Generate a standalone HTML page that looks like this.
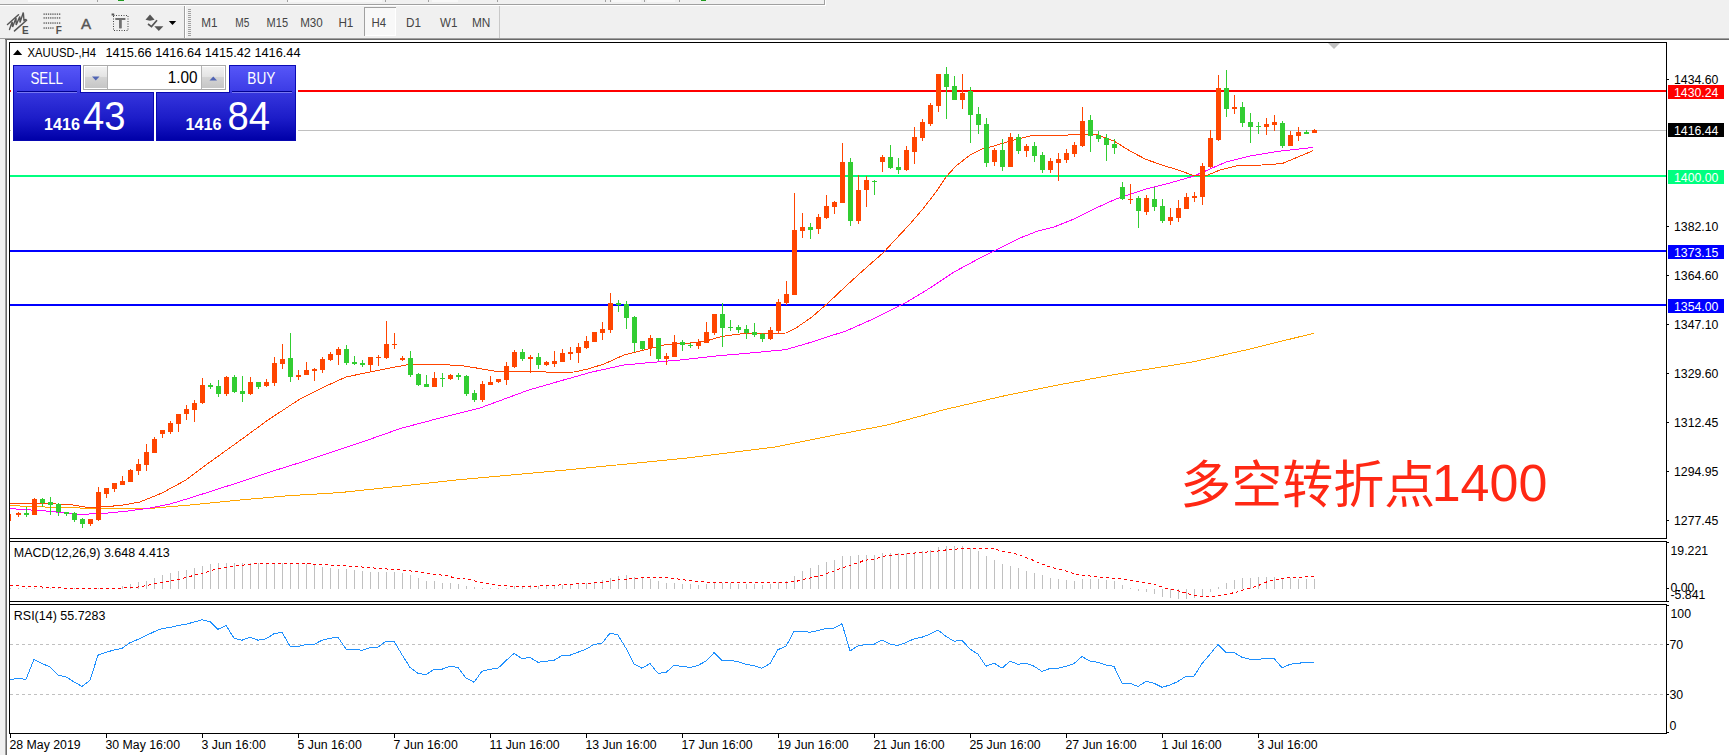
<!DOCTYPE html>
<html lang="zh"><head><meta charset="utf-8"><title>XAUUSD H4</title>
<style>html,body{margin:0;padding:0;background:#fff;overflow:hidden}body{width:1729px;height:755px;position:relative;font-family:"Liberation Sans", "Noto Sans CJK SC", sans-serif}svg{display:block;position:absolute;left:0;top:0}text{font-family:"Liberation Sans", "Noto Sans CJK SC", sans-serif}</style>
</head><body>
<svg width="1729" height="755" viewBox="0 0 1729 755">
<defs>
<linearGradient id="gb1" x1="0" y1="0" x2="0" y2="1"><stop offset="0" stop-color="#5656f8"/><stop offset="1" stop-color="#3a3ae4"/></linearGradient>
<linearGradient id="gb2" x1="0" y1="0" x2="0" y2="1"><stop offset="0" stop-color="#3636de"/><stop offset="0.55" stop-color="#1c1cc8"/><stop offset="1" stop-color="#0000a8"/></linearGradient>
<linearGradient id="gg" x1="0" y1="0" x2="0" y2="1"><stop offset="0" stop-color="#f2f2f2"/><stop offset="0.45" stop-color="#e4e4e4"/><stop offset="0.5" stop-color="#d4d4d4"/><stop offset="1" stop-color="#c6c6c6"/></linearGradient>
<clipPath id="cm"><rect x="10" y="43" width="1656" height="495"/></clipPath>
</defs>
<g shape-rendering="crispEdges">
<rect x="0" y="0" width="1729" height="755" fill="#fff"/>
<rect x="0" y="0" width="1729" height="38" fill="#f0f0f0"/>
<rect x="0" y="38" width="1729" height="1" fill="#a0a0a0"/>
<rect x="5" y="39" width="1724" height="1" fill="#696969"/>
<rect x="0" y="39" width="5" height="716" fill="#f0f0f0"/>
<rect x="5" y="40" width="1" height="715" fill="#a0a0a0"/>
<rect x="6" y="40" width="1" height="715" fill="#696969"/>
<rect x="0" y="4" width="825" height="1" fill="#a0a0a0"/>
<rect x="0" y="5" width="826" height="1" fill="#ffffff"/>
<rect x="825" y="0" width="1" height="6" fill="#ffffff"/>
<rect x="824" y="0" width="1" height="5" fill="#a0a0a0"/>
<rect x="28" y="0" width="32" height="2" fill="#fafafa"/>
<rect x="288" y="0" width="94" height="2" fill="#f8f8f8"/>
<rect x="432" y="0" width="26" height="2" fill="#f8f8f8"/>
<rect x="612" y="0" width="29" height="2" fill="#f8f8f8"/>
<rect x="647" y="0" width="28" height="2" fill="#f8f8f8"/>
<rect x="701" y="0" width="5" height="1" fill="#1e9a1e"/>
<rect x="97" y="0" width="1" height="2" fill="#a0a0a0"/>
<rect x="287" y="0" width="1" height="2" fill="#a0a0a0"/>
<rect x="385" y="0" width="1" height="2" fill="#a0a0a0"/>
<rect x="428" y="0" width="1" height="2" fill="#a0a0a0"/>
<rect x="497" y="0" width="1" height="2" fill="#a0a0a0"/>
<rect x="605" y="0" width="1" height="2" fill="#a0a0a0"/>
<rect x="610" y="0" width="1" height="2" fill="#a0a0a0"/>
<rect x="644" y="0" width="1" height="2" fill="#a0a0a0"/>
<rect x="679" y="0" width="1" height="2" fill="#a0a0a0"/>
<rect x="118" y="0" width="6" height="1" fill="#1e9a1e"/>
<rect x="184" y="6" width="1" height="32" fill="#a0a0a0"/>
<rect x="185" y="6" width="1" height="32" fill="#ffffff"/>
<rect x="188" y="9" width="3" height="1" fill="#a0a0a0"/>
<rect x="188" y="11" width="3" height="1" fill="#a0a0a0"/>
<rect x="188" y="13" width="3" height="1" fill="#a0a0a0"/>
<rect x="188" y="15" width="3" height="1" fill="#a0a0a0"/>
<rect x="188" y="17" width="3" height="1" fill="#a0a0a0"/>
<rect x="188" y="19" width="3" height="1" fill="#a0a0a0"/>
<rect x="188" y="21" width="3" height="1" fill="#a0a0a0"/>
<rect x="188" y="23" width="3" height="1" fill="#a0a0a0"/>
<rect x="188" y="25" width="3" height="1" fill="#a0a0a0"/>
<rect x="188" y="27" width="3" height="1" fill="#a0a0a0"/>
<rect x="188" y="29" width="3" height="1" fill="#a0a0a0"/>
<rect x="188" y="31" width="3" height="1" fill="#a0a0a0"/>
<rect x="188" y="33" width="3" height="1" fill="#a0a0a0"/>
<rect x="188" y="35" width="3" height="1" fill="#a0a0a0"/>
<rect x="499" y="6" width="1" height="32" fill="#c8c8c8"/>
<rect x="364" y="7" width="32" height="29" fill="#f8f8f8"/>
<rect x="364" y="7" width="32" height="1" fill="#a0a0a0"/>
<rect x="364" y="7" width="1" height="29" fill="#a0a0a0"/>
<rect x="365" y="35" width="31" height="1" fill="#ffffff"/>
<rect x="395" y="8" width="1" height="28" fill="#ffffff"/>
</g>
<g fill="none" stroke="#555" stroke-width="1.1" stroke-linecap="round">
<path d="M7.5 24.5 L18.5 14.7 M14.5 30.9 L26.6 20.2" stroke-width="1.5"/>
<path d="M9.5 29.5 L12.2 21.8 L12.6 27 L16 18 L16.2 25 L19.8 16.5 L20 22.5 L23.3 12.5 L24 20.5 L26 19.5" stroke-width="1.4"/>
</g>
<text x="22" y="33.8" font-size="10" font-weight="bold" fill="#505050">E</text>
<g fill="#686868">
<rect x="43.5" y="13.4" width="1.3" height="1.5"/>
<rect x="45.7" y="13.4" width="1.3" height="1.5"/>
<rect x="47.9" y="13.4" width="1.3" height="1.5"/>
<rect x="50.1" y="13.4" width="1.3" height="1.5"/>
<rect x="52.3" y="13.4" width="1.3" height="1.5"/>
<rect x="54.5" y="13.4" width="1.3" height="1.5"/>
<rect x="56.8" y="13.4" width="1.3" height="1.5"/>
<rect x="59.0" y="13.4" width="1.3" height="1.5"/>
<rect x="43.5" y="17.2" width="1.3" height="1.5"/>
<rect x="45.7" y="17.2" width="1.3" height="1.5"/>
<rect x="47.9" y="17.2" width="1.3" height="1.5"/>
<rect x="50.1" y="17.2" width="1.3" height="1.5"/>
<rect x="52.3" y="17.2" width="1.3" height="1.5"/>
<rect x="54.5" y="17.2" width="1.3" height="1.5"/>
<rect x="56.8" y="17.2" width="1.3" height="1.5"/>
<rect x="59.0" y="17.2" width="1.3" height="1.5"/>
<rect x="43.5" y="22.3" width="1.3" height="1.5"/>
<rect x="45.7" y="22.3" width="1.3" height="1.5"/>
<rect x="47.9" y="22.3" width="1.3" height="1.5"/>
<rect x="50.1" y="22.3" width="1.3" height="1.5"/>
<rect x="52.3" y="22.3" width="1.3" height="1.5"/>
<rect x="54.5" y="22.3" width="1.3" height="1.5"/>
<rect x="56.8" y="22.3" width="1.3" height="1.5"/>
<rect x="59.0" y="22.3" width="1.3" height="1.5"/>
<rect x="43.5" y="27.3" width="1.3" height="1.5"/>
<rect x="45.7" y="27.3" width="1.3" height="1.5"/>
<rect x="47.9" y="27.3" width="1.3" height="1.5"/>
<rect x="50.1" y="27.3" width="1.3" height="1.5"/>
<rect x="52.3" y="27.3" width="1.3" height="1.5"/>
</g>
<text x="55.8" y="33.8" font-size="10" font-weight="bold" fill="#505050">F</text>
<text x="86.1" y="28.6" font-size="15.2" fill="#555" stroke="#555" stroke-width="0.4" text-anchor="middle">A</text>
<rect x="113.5" y="15.5" width="14.5" height="15" fill="none" stroke="#444" stroke-width="1" stroke-dasharray="1 1.5"/>
<rect x="111.6" y="13.5" width="2.6" height="2" fill="#555"/>
<path d="M115.3 19 H125.4 M120.4 18.2 V28.3" fill="none" stroke="#707070" stroke-width="1.8"/>
<path d="M120.4 18.2 V28.3" fill="none" stroke="#707070" stroke-width="2.6"/>
<g fill="#555"><path d="M150 14.5 L154.6 19.8 L150 20.8 L145.5 19.8 Z"/><path d="M154.3 26.2 H163.4 L158.8 31 Z"/></g>
<path d="M148 24 L151.5 26.6 L157 20.2" fill="none" stroke="#555" stroke-width="1.7"/>
<path d="M168.8 20.9 H176.2 L172.5 25.1 Z" fill="#000"/>
<text x="209.5" y="27.2" font-size="12.5" fill="#444" text-anchor="middle" textLength="16.3" lengthAdjust="spacingAndGlyphs">M1</text>
<text x="242.3" y="27.2" font-size="12.5" fill="#444" text-anchor="middle" textLength="14" lengthAdjust="spacingAndGlyphs">M5</text>
<text x="277.3" y="27.2" font-size="12.5" fill="#444" text-anchor="middle" textLength="21.5" lengthAdjust="spacingAndGlyphs">M15</text>
<text x="311.5" y="27.2" font-size="12.5" fill="#444" text-anchor="middle" textLength="22.6" lengthAdjust="spacingAndGlyphs">M30</text>
<text x="345.9" y="27.2" font-size="12.5" fill="#444" text-anchor="middle" textLength="15" lengthAdjust="spacingAndGlyphs">H1</text>
<text x="378.7" y="27.2" font-size="12.5" fill="#444" text-anchor="middle" textLength="14.6" lengthAdjust="spacingAndGlyphs">H4</text>
<text x="413.5" y="27.2" font-size="12.5" fill="#444" text-anchor="middle" textLength="15" lengthAdjust="spacingAndGlyphs">D1</text>
<text x="448.7" y="27.2" font-size="12.5" fill="#444" text-anchor="middle" textLength="17.4" lengthAdjust="spacingAndGlyphs">W1</text>
<text x="481.2" y="27.2" font-size="12.5" fill="#444" text-anchor="middle" textLength="18.4" lengthAdjust="spacingAndGlyphs">MN</text>
<g shape-rendering="crispEdges" fill="none" stroke="#000" stroke-width="1">
<path d="M9.5 733.5 V42.5 H1666.5 V733.5"/>
<path d="M9.5 538.5 H1666.5 M9.5 541.5 H1666.5 M9.5 601.5 H1666.5 M9.5 604.5 H1666.5 M9.5 733.5 H1666.5"/>
</g>
<g shape-rendering="crispEdges">
<rect x="10" y="539" width="1657" height="2" fill="#fff"/>
<rect x="10" y="602" width="1657" height="2" fill="#fff"/>
<rect x="10" y="130" width="1656" height="1" fill="#c0c0c0"/>
<rect x="10" y="90" width="1656" height="2" fill="#ff0000"/>
<rect x="10" y="175" width="1656" height="2" fill="#00ff7f"/>
<rect x="10" y="250" width="1656" height="2" fill="#0000ff"/>
<rect x="10" y="304" width="1656" height="2" fill="#0000ff"/>
</g>
<path d="M1328 43 H1340 L1334 49 Z" fill="#c0c0c0"/>
<g clip-path="url(#cm)">
<polyline fill="none" stroke="#FFA500" stroke-width="1" shape-rendering="crispEdges" points="10.0,505.6 60.0,507.6 100.0,508.4 150.0,508.4 190.0,505.0 240.0,500.0 290.0,495.6 340.0,492.6 400.0,486.2 455.7,480.0 571.3,469.5 687.0,458.0 773.8,447.2 830.0,436.0 887.8,424.9 945.7,409.3 1003.5,396.0 1061.3,384.4 1119.2,373.7 1191.5,362.2 1249.3,349.2 1313.5,333.3"/>
<polyline fill="none" stroke="#FF00FF" stroke-width="1" shape-rendering="crispEdges" points="10.0,508.6 46.0,511.0 80.0,514.4 104.0,513.4 128.0,511.0 150.0,508.0 170.0,504.0 190.0,498.0 212.0,491.0 240.0,482.0 270.0,472.0 300.0,462.6 346.0,447.4 368.0,440.0 400.0,428.6 440.0,418.0 480.0,408.0 528.0,390.3 560.0,381.0 592.0,372.0 624.0,365.0 652.0,362.4 680.0,360.0 716.0,356.0 750.0,353.0 786.0,349.6 812.0,342.0 830.0,336.1 846.0,331.0 873.4,318.8 908.0,301.4 930.0,288.0 954.0,272.0 980.0,258.0 998.0,249.0 1020.0,238.0 1038.0,231.0 1054.0,227.0 1074.0,219.0 1094.0,209.0 1116.0,199.0 1146.0,189.0 1170.0,183.0 1194.0,176.0 1210.0,169.0 1226.0,162.0 1250.0,156.0 1278.0,151.4 1313.4,147.4"/>
<polyline fill="none" stroke="#FF4500" stroke-width="1" shape-rendering="crispEdges" points="10.0,503.0 34.0,503.4 70.0,504.4 88.0,507.6 104.0,506.6 120.0,505.6 140.0,502.0 162.0,493.0 186.0,480.0 210.0,462.0 240.0,440.5 268.0,420.0 300.0,399.0 324.0,387.0 346.0,377.0 370.0,372.0 390.0,368.0 406.0,365.0 438.0,364.4 462.0,365.6 480.0,368.6 496.0,371.4 526.0,371.4 530.0,371.0 552.0,372.4 574.0,372.0 588.0,369.0 604.0,364.0 624.0,355.0 640.0,351.0 652.0,348.0 664.0,345.0 690.0,343.0 706.0,341.0 722.0,336.4 740.0,334.0 768.0,333.4 786.0,333.0 796.0,328.0 812.0,317.0 828.0,303.0 846.0,286.0 862.0,271.4 884.0,252.0 894.0,241.0 910.0,224.0 922.0,210.0 936.0,192.0 946.0,177.0 956.0,166.0 970.0,155.0 982.0,149.0 994.0,146.0 1010.0,141.0 1032.0,135.6 1060.0,135.6 1082.0,134.0 1098.0,135.0 1114.0,141.0 1130.0,151.0 1146.0,159.4 1162.0,165.0 1178.0,170.0 1192.0,175.0 1208.0,175.0 1220.0,170.0 1238.0,165.6 1262.0,165.0 1282.0,163.6 1298.0,157.0 1313.4,150.6"/>
<g shape-rendering="crispEdges">
<rect x="10" y="514" width="1" height="7" fill="#FF4500"/>
<rect x="18" y="512" width="1" height="5" fill="#FF4500"/>
<rect x="16" y="513" width="5" height="2" fill="#FF4500"/>
<rect x="26" y="507" width="1" height="10" fill="#32CD32"/>
<rect x="24" y="513" width="5" height="2" fill="#32CD32"/>
<rect x="34" y="498" width="1" height="17" fill="#FF4500"/>
<rect x="32" y="499" width="5" height="16" fill="#FF4500"/>
<rect x="42" y="498" width="1" height="9" fill="#32CD32"/>
<rect x="40" y="499" width="5" height="4" fill="#32CD32"/>
<rect x="50" y="497" width="1" height="18" fill="#32CD32"/>
<rect x="48" y="502" width="5" height="3" fill="#32CD32"/>
<rect x="58" y="503" width="1" height="13" fill="#32CD32"/>
<rect x="56" y="504" width="5" height="8" fill="#32CD32"/>
<rect x="66" y="512" width="1" height="4" fill="#32CD32"/>
<rect x="64" y="512" width="5" height="2" fill="#32CD32"/>
<rect x="74" y="512" width="1" height="10" fill="#32CD32"/>
<rect x="72" y="513" width="5" height="7" fill="#32CD32"/>
<rect x="82" y="518" width="1" height="10" fill="#32CD32"/>
<rect x="80" y="519" width="5" height="5" fill="#32CD32"/>
<rect x="90" y="519" width="1" height="7" fill="#FF4500"/>
<rect x="88" y="519" width="5" height="5" fill="#FF4500"/>
<rect x="98" y="487" width="1" height="34" fill="#FF4500"/>
<rect x="96" y="492" width="5" height="28" fill="#FF4500"/>
<rect x="106" y="488" width="1" height="10" fill="#FF4500"/>
<rect x="104" y="488" width="5" height="6" fill="#FF4500"/>
<rect x="114" y="483" width="1" height="9" fill="#FF4500"/>
<rect x="112" y="483" width="5" height="6" fill="#FF4500"/>
<rect x="122" y="476" width="1" height="9" fill="#FF4500"/>
<rect x="120" y="481" width="5" height="4" fill="#FF4500"/>
<rect x="130" y="469" width="1" height="13" fill="#FF4500"/>
<rect x="128" y="470" width="5" height="12" fill="#FF4500"/>
<rect x="138" y="459" width="1" height="16" fill="#FF4500"/>
<rect x="136" y="464" width="5" height="7" fill="#FF4500"/>
<rect x="146" y="444" width="1" height="27" fill="#FF4500"/>
<rect x="144" y="452" width="5" height="13" fill="#FF4500"/>
<rect x="154" y="437" width="1" height="16" fill="#FF4500"/>
<rect x="152" y="439" width="5" height="14" fill="#FF4500"/>
<rect x="162" y="430" width="1" height="8" fill="#FF4500"/>
<rect x="160" y="430" width="5" height="4" fill="#FF4500"/>
<rect x="170" y="421" width="1" height="13" fill="#FF4500"/>
<rect x="168" y="423" width="5" height="9" fill="#FF4500"/>
<rect x="178" y="414" width="1" height="18" fill="#FF4500"/>
<rect x="176" y="414" width="5" height="10" fill="#FF4500"/>
<rect x="186" y="405" width="1" height="15" fill="#FF4500"/>
<rect x="184" y="409" width="5" height="5" fill="#FF4500"/>
<rect x="194" y="400" width="1" height="22" fill="#FF4500"/>
<rect x="192" y="403" width="5" height="7" fill="#FF4500"/>
<rect x="202" y="378" width="1" height="26" fill="#FF4500"/>
<rect x="200" y="385" width="5" height="18" fill="#FF4500"/>
<rect x="210" y="383" width="1" height="6" fill="#32CD32"/>
<rect x="208" y="385" width="5" height="2" fill="#32CD32"/>
<rect x="218" y="380" width="1" height="17" fill="#32CD32"/>
<rect x="216" y="386" width="5" height="8" fill="#32CD32"/>
<rect x="226" y="376" width="1" height="20" fill="#FF4500"/>
<rect x="224" y="377" width="5" height="17" fill="#FF4500"/>
<rect x="234" y="375" width="1" height="18" fill="#32CD32"/>
<rect x="232" y="377" width="5" height="15" fill="#32CD32"/>
<rect x="242" y="376" width="1" height="26" fill="#32CD32"/>
<rect x="240" y="391" width="5" height="3" fill="#32CD32"/>
<rect x="250" y="377" width="1" height="18" fill="#FF4500"/>
<rect x="248" y="382" width="5" height="12" fill="#FF4500"/>
<rect x="258" y="382" width="1" height="7" fill="#32CD32"/>
<rect x="256" y="382" width="5" height="5" fill="#32CD32"/>
<rect x="266" y="379" width="1" height="8" fill="#FF4500"/>
<rect x="264" y="382" width="5" height="4" fill="#FF4500"/>
<rect x="274" y="357" width="1" height="29" fill="#FF4500"/>
<rect x="272" y="363" width="5" height="20" fill="#FF4500"/>
<rect x="282" y="344" width="1" height="25" fill="#FF4500"/>
<rect x="280" y="359" width="5" height="5" fill="#FF4500"/>
<rect x="290" y="333" width="1" height="49" fill="#32CD32"/>
<rect x="288" y="358" width="5" height="19" fill="#32CD32"/>
<rect x="298" y="370" width="1" height="10" fill="#FF4500"/>
<rect x="296" y="375" width="5" height="2" fill="#FF4500"/>
<rect x="306" y="362" width="1" height="13" fill="#FF4500"/>
<rect x="304" y="370" width="5" height="5" fill="#FF4500"/>
<rect x="314" y="368" width="1" height="13" fill="#FF4500"/>
<rect x="312" y="369" width="5" height="2" fill="#FF4500"/>
<rect x="322" y="357" width="1" height="16" fill="#FF4500"/>
<rect x="320" y="359" width="5" height="11" fill="#FF4500"/>
<rect x="330" y="352" width="1" height="9" fill="#FF4500"/>
<rect x="328" y="354" width="5" height="6" fill="#FF4500"/>
<rect x="338" y="347" width="1" height="18" fill="#FF4500"/>
<rect x="336" y="349" width="5" height="6" fill="#FF4500"/>
<rect x="346" y="345" width="1" height="20" fill="#32CD32"/>
<rect x="344" y="349" width="5" height="14" fill="#32CD32"/>
<rect x="354" y="356" width="1" height="9" fill="#32CD32"/>
<rect x="352" y="362" width="5" height="2" fill="#32CD32"/>
<rect x="362" y="360" width="1" height="7" fill="#32CD32"/>
<rect x="360" y="363" width="5" height="2" fill="#32CD32"/>
<rect x="370" y="357" width="1" height="15" fill="#FF4500"/>
<rect x="368" y="357" width="5" height="8" fill="#FF4500"/>
<rect x="378" y="355" width="1" height="11" fill="#FF4500"/>
<rect x="376" y="357" width="5" height="1" fill="#FF4500"/>
<rect x="386" y="321" width="1" height="38" fill="#FF4500"/>
<rect x="384" y="344" width="5" height="14" fill="#FF4500"/>
<rect x="394" y="333" width="1" height="16" fill="#FF4500"/>
<rect x="392" y="344" width="5" height="1" fill="#FF4500"/>
<rect x="402" y="356" width="1" height="5" fill="#FF4500"/>
<rect x="400" y="358" width="5" height="2" fill="#FF4500"/>
<rect x="410" y="351" width="1" height="26" fill="#32CD32"/>
<rect x="408" y="358" width="5" height="17" fill="#32CD32"/>
<rect x="418" y="373" width="1" height="13" fill="#32CD32"/>
<rect x="416" y="374" width="5" height="11" fill="#32CD32"/>
<rect x="426" y="375" width="1" height="12" fill="#32CD32"/>
<rect x="424" y="384" width="5" height="3" fill="#32CD32"/>
<rect x="434" y="372" width="1" height="15" fill="#FF4500"/>
<rect x="432" y="378" width="5" height="9" fill="#FF4500"/>
<rect x="442" y="373" width="1" height="14" fill="#32CD32"/>
<rect x="440" y="378" width="5" height="1" fill="#32CD32"/>
<rect x="450" y="374" width="1" height="6" fill="#FF4500"/>
<rect x="448" y="375" width="5" height="4" fill="#FF4500"/>
<rect x="458" y="373" width="1" height="7" fill="#32CD32"/>
<rect x="456" y="375" width="5" height="2" fill="#32CD32"/>
<rect x="466" y="375" width="1" height="21" fill="#32CD32"/>
<rect x="464" y="376" width="5" height="18" fill="#32CD32"/>
<rect x="474" y="390" width="1" height="12" fill="#32CD32"/>
<rect x="472" y="393" width="5" height="7" fill="#32CD32"/>
<rect x="482" y="381" width="1" height="21" fill="#FF4500"/>
<rect x="480" y="384" width="5" height="16" fill="#FF4500"/>
<rect x="490" y="376" width="1" height="9" fill="#FF4500"/>
<rect x="488" y="382" width="5" height="3" fill="#FF4500"/>
<rect x="498" y="379" width="1" height="4" fill="#FF4500"/>
<rect x="496" y="379" width="5" height="3" fill="#FF4500"/>
<rect x="506" y="362" width="1" height="23" fill="#FF4500"/>
<rect x="504" y="366" width="5" height="14" fill="#FF4500"/>
<rect x="514" y="350" width="1" height="18" fill="#FF4500"/>
<rect x="512" y="352" width="5" height="15" fill="#FF4500"/>
<rect x="522" y="349" width="1" height="12" fill="#32CD32"/>
<rect x="520" y="352" width="5" height="7" fill="#32CD32"/>
<rect x="530" y="355" width="1" height="18" fill="#FF4500"/>
<rect x="528" y="357" width="5" height="2" fill="#FF4500"/>
<rect x="538" y="353" width="1" height="16" fill="#32CD32"/>
<rect x="536" y="357" width="5" height="8" fill="#32CD32"/>
<rect x="546" y="361" width="1" height="5" fill="#FF4500"/>
<rect x="544" y="362" width="5" height="3" fill="#FF4500"/>
<rect x="554" y="351" width="1" height="16" fill="#FF4500"/>
<rect x="552" y="361" width="5" height="3" fill="#FF4500"/>
<rect x="562" y="349" width="1" height="13" fill="#FF4500"/>
<rect x="560" y="353" width="5" height="9" fill="#FF4500"/>
<rect x="570" y="347" width="1" height="13" fill="#FF4500"/>
<rect x="568" y="352" width="5" height="2" fill="#FF4500"/>
<rect x="578" y="343" width="1" height="20" fill="#FF4500"/>
<rect x="576" y="347" width="5" height="6" fill="#FF4500"/>
<rect x="586" y="336" width="1" height="13" fill="#FF4500"/>
<rect x="584" y="341" width="5" height="7" fill="#FF4500"/>
<rect x="594" y="332" width="1" height="10" fill="#FF4500"/>
<rect x="592" y="332" width="5" height="10" fill="#FF4500"/>
<rect x="602" y="322" width="1" height="18" fill="#FF4500"/>
<rect x="600" y="329" width="5" height="4" fill="#FF4500"/>
<rect x="610" y="293" width="1" height="40" fill="#FF4500"/>
<rect x="608" y="303" width="5" height="27" fill="#FF4500"/>
<rect x="618" y="300" width="1" height="12" fill="#32CD32"/>
<rect x="616" y="303" width="5" height="2" fill="#32CD32"/>
<rect x="626" y="301" width="1" height="28" fill="#32CD32"/>
<rect x="624" y="304" width="5" height="14" fill="#32CD32"/>
<rect x="634" y="316" width="1" height="36" fill="#32CD32"/>
<rect x="632" y="317" width="5" height="26" fill="#32CD32"/>
<rect x="642" y="341" width="1" height="9" fill="#32CD32"/>
<rect x="640" y="341" width="5" height="8" fill="#32CD32"/>
<rect x="650" y="335" width="1" height="21" fill="#FF4500"/>
<rect x="648" y="338" width="5" height="10" fill="#FF4500"/>
<rect x="658" y="338" width="1" height="23" fill="#32CD32"/>
<rect x="656" y="338" width="5" height="21" fill="#32CD32"/>
<rect x="666" y="353" width="1" height="12" fill="#FF4500"/>
<rect x="664" y="356" width="5" height="3" fill="#FF4500"/>
<rect x="674" y="335" width="1" height="22" fill="#FF4500"/>
<rect x="672" y="342" width="5" height="15" fill="#FF4500"/>
<rect x="682" y="340" width="1" height="11" fill="#32CD32"/>
<rect x="680" y="342" width="5" height="3" fill="#32CD32"/>
<rect x="690" y="343" width="1" height="5" fill="#32CD32"/>
<rect x="688" y="345" width="5" height="1" fill="#32CD32"/>
<rect x="698" y="339" width="1" height="10" fill="#FF4500"/>
<rect x="696" y="342" width="5" height="4" fill="#FF4500"/>
<rect x="706" y="322" width="1" height="21" fill="#FF4500"/>
<rect x="704" y="332" width="5" height="11" fill="#FF4500"/>
<rect x="714" y="314" width="1" height="21" fill="#FF4500"/>
<rect x="712" y="314" width="5" height="19" fill="#FF4500"/>
<rect x="722" y="303" width="1" height="44" fill="#32CD32"/>
<rect x="720" y="314" width="5" height="14" fill="#32CD32"/>
<rect x="730" y="320" width="1" height="11" fill="#32CD32"/>
<rect x="728" y="327" width="5" height="1" fill="#32CD32"/>
<rect x="738" y="325" width="1" height="8" fill="#32CD32"/>
<rect x="736" y="327" width="5" height="3" fill="#32CD32"/>
<rect x="746" y="325" width="1" height="14" fill="#32CD32"/>
<rect x="744" y="329" width="5" height="4" fill="#32CD32"/>
<rect x="754" y="323" width="1" height="14" fill="#32CD32"/>
<rect x="752" y="332" width="5" height="3" fill="#32CD32"/>
<rect x="762" y="333" width="1" height="9" fill="#32CD32"/>
<rect x="760" y="334" width="5" height="5" fill="#32CD32"/>
<rect x="770" y="327" width="1" height="13" fill="#FF4500"/>
<rect x="768" y="330" width="5" height="9" fill="#FF4500"/>
<rect x="778" y="299" width="1" height="34" fill="#FF4500"/>
<rect x="776" y="302" width="5" height="29" fill="#FF4500"/>
<rect x="786" y="281" width="1" height="24" fill="#FF4500"/>
<rect x="784" y="294" width="5" height="9" fill="#FF4500"/>
<rect x="794" y="193" width="1" height="102" fill="#FF4500"/>
<rect x="792" y="230" width="5" height="65" fill="#FF4500"/>
<rect x="802" y="213" width="1" height="25" fill="#FF4500"/>
<rect x="800" y="227" width="5" height="4" fill="#FF4500"/>
<rect x="810" y="223" width="1" height="16" fill="#32CD32"/>
<rect x="808" y="227" width="5" height="3" fill="#32CD32"/>
<rect x="818" y="214" width="1" height="20" fill="#FF4500"/>
<rect x="816" y="217" width="5" height="12" fill="#FF4500"/>
<rect x="826" y="195" width="1" height="24" fill="#FF4500"/>
<rect x="824" y="206" width="5" height="12" fill="#FF4500"/>
<rect x="834" y="201" width="1" height="13" fill="#FF4500"/>
<rect x="832" y="202" width="5" height="5" fill="#FF4500"/>
<rect x="842" y="143" width="1" height="60" fill="#FF4500"/>
<rect x="840" y="162" width="5" height="41" fill="#FF4500"/>
<rect x="850" y="158" width="1" height="68" fill="#32CD32"/>
<rect x="848" y="162" width="5" height="59" fill="#32CD32"/>
<rect x="858" y="175" width="1" height="49" fill="#FF4500"/>
<rect x="856" y="190" width="5" height="31" fill="#FF4500"/>
<rect x="866" y="176" width="1" height="31" fill="#FF4500"/>
<rect x="864" y="180" width="5" height="10" fill="#FF4500"/>
<rect x="874" y="180" width="1" height="15" fill="#32CD32"/>
<rect x="872" y="181" width="5" height="1" fill="#32CD32"/>
<rect x="882" y="155" width="1" height="17" fill="#FF4500"/>
<rect x="880" y="157" width="5" height="5" fill="#FF4500"/>
<rect x="890" y="145" width="1" height="24" fill="#32CD32"/>
<rect x="888" y="157" width="5" height="11" fill="#32CD32"/>
<rect x="898" y="158" width="1" height="16" fill="#32CD32"/>
<rect x="896" y="167" width="5" height="3" fill="#32CD32"/>
<rect x="906" y="146" width="1" height="25" fill="#FF4500"/>
<rect x="904" y="150" width="5" height="20" fill="#FF4500"/>
<rect x="914" y="127" width="1" height="37" fill="#FF4500"/>
<rect x="912" y="137" width="5" height="15" fill="#FF4500"/>
<rect x="922" y="119" width="1" height="22" fill="#FF4500"/>
<rect x="920" y="122" width="5" height="16" fill="#FF4500"/>
<rect x="930" y="103" width="1" height="23" fill="#FF4500"/>
<rect x="928" y="105" width="5" height="19" fill="#FF4500"/>
<rect x="938" y="74" width="1" height="38" fill="#FF4500"/>
<rect x="936" y="74" width="5" height="32" fill="#FF4500"/>
<rect x="946" y="67" width="1" height="52" fill="#32CD32"/>
<rect x="944" y="74" width="5" height="13" fill="#32CD32"/>
<rect x="954" y="76" width="1" height="24" fill="#32CD32"/>
<rect x="952" y="86" width="5" height="14" fill="#32CD32"/>
<rect x="962" y="74" width="1" height="35" fill="#FF4500"/>
<rect x="960" y="93" width="5" height="7" fill="#FF4500"/>
<rect x="970" y="87" width="1" height="56" fill="#32CD32"/>
<rect x="968" y="91" width="5" height="24" fill="#32CD32"/>
<rect x="978" y="107" width="1" height="27" fill="#32CD32"/>
<rect x="976" y="114" width="5" height="11" fill="#32CD32"/>
<rect x="986" y="118" width="1" height="49" fill="#32CD32"/>
<rect x="984" y="124" width="5" height="39" fill="#32CD32"/>
<rect x="994" y="148" width="1" height="18" fill="#FF4500"/>
<rect x="992" y="150" width="5" height="12" fill="#FF4500"/>
<rect x="1002" y="139" width="1" height="32" fill="#32CD32"/>
<rect x="1000" y="150" width="5" height="17" fill="#32CD32"/>
<rect x="1010" y="133" width="1" height="34" fill="#FF4500"/>
<rect x="1008" y="137" width="5" height="30" fill="#FF4500"/>
<rect x="1018" y="134" width="1" height="20" fill="#32CD32"/>
<rect x="1016" y="137" width="5" height="14" fill="#32CD32"/>
<rect x="1026" y="144" width="1" height="13" fill="#FF4500"/>
<rect x="1024" y="146" width="5" height="5" fill="#FF4500"/>
<rect x="1034" y="142" width="1" height="20" fill="#32CD32"/>
<rect x="1032" y="146" width="5" height="10" fill="#32CD32"/>
<rect x="1042" y="152" width="1" height="21" fill="#32CD32"/>
<rect x="1040" y="155" width="5" height="15" fill="#32CD32"/>
<rect x="1050" y="158" width="1" height="15" fill="#FF4500"/>
<rect x="1048" y="161" width="5" height="9" fill="#FF4500"/>
<rect x="1058" y="153" width="1" height="28" fill="#FF4500"/>
<rect x="1056" y="159" width="5" height="4" fill="#FF4500"/>
<rect x="1066" y="149" width="1" height="14" fill="#FF4500"/>
<rect x="1064" y="153" width="5" height="7" fill="#FF4500"/>
<rect x="1074" y="142" width="1" height="15" fill="#FF4500"/>
<rect x="1072" y="145" width="5" height="9" fill="#FF4500"/>
<rect x="1082" y="107" width="1" height="40" fill="#FF4500"/>
<rect x="1080" y="121" width="5" height="25" fill="#FF4500"/>
<rect x="1090" y="115" width="1" height="37" fill="#32CD32"/>
<rect x="1088" y="120" width="5" height="16" fill="#32CD32"/>
<rect x="1098" y="131" width="1" height="11" fill="#32CD32"/>
<rect x="1096" y="135" width="5" height="4" fill="#32CD32"/>
<rect x="1106" y="134" width="1" height="27" fill="#32CD32"/>
<rect x="1104" y="138" width="5" height="7" fill="#32CD32"/>
<rect x="1114" y="139" width="1" height="15" fill="#32CD32"/>
<rect x="1112" y="144" width="5" height="4" fill="#32CD32"/>
<rect x="1122" y="182" width="1" height="18" fill="#32CD32"/>
<rect x="1120" y="187" width="5" height="12" fill="#32CD32"/>
<rect x="1130" y="184" width="1" height="20" fill="#FF4500"/>
<rect x="1128" y="199" width="5" height="1" fill="#FF4500"/>
<rect x="1138" y="196" width="1" height="32" fill="#32CD32"/>
<rect x="1136" y="198" width="5" height="13" fill="#32CD32"/>
<rect x="1146" y="195" width="1" height="20" fill="#FF4500"/>
<rect x="1144" y="198" width="5" height="14" fill="#FF4500"/>
<rect x="1154" y="187" width="1" height="24" fill="#32CD32"/>
<rect x="1152" y="199" width="5" height="8" fill="#32CD32"/>
<rect x="1162" y="199" width="1" height="24" fill="#32CD32"/>
<rect x="1160" y="206" width="5" height="15" fill="#32CD32"/>
<rect x="1170" y="208" width="1" height="17" fill="#FF4500"/>
<rect x="1168" y="217" width="5" height="4" fill="#FF4500"/>
<rect x="1178" y="200" width="1" height="22" fill="#FF4500"/>
<rect x="1176" y="208" width="5" height="10" fill="#FF4500"/>
<rect x="1186" y="193" width="1" height="16" fill="#FF4500"/>
<rect x="1184" y="197" width="5" height="12" fill="#FF4500"/>
<rect x="1194" y="192" width="1" height="10" fill="#FF4500"/>
<rect x="1192" y="196" width="5" height="2" fill="#FF4500"/>
<rect x="1202" y="163" width="1" height="42" fill="#FF4500"/>
<rect x="1200" y="166" width="5" height="31" fill="#FF4500"/>
<rect x="1210" y="130" width="1" height="38" fill="#FF4500"/>
<rect x="1208" y="138" width="5" height="29" fill="#FF4500"/>
<rect x="1218" y="75" width="1" height="66" fill="#FF4500"/>
<rect x="1216" y="88" width="5" height="52" fill="#FF4500"/>
<rect x="1226" y="70" width="1" height="47" fill="#32CD32"/>
<rect x="1224" y="88" width="5" height="21" fill="#32CD32"/>
<rect x="1234" y="95" width="1" height="19" fill="#FF4500"/>
<rect x="1232" y="107" width="5" height="2" fill="#FF4500"/>
<rect x="1242" y="102" width="1" height="25" fill="#32CD32"/>
<rect x="1240" y="107" width="5" height="16" fill="#32CD32"/>
<rect x="1250" y="113" width="1" height="30" fill="#32CD32"/>
<rect x="1248" y="122" width="5" height="5" fill="#32CD32"/>
<rect x="1258" y="122" width="1" height="12" fill="#32CD32"/>
<rect x="1256" y="126" width="5" height="1" fill="#32CD32"/>
<rect x="1266" y="118" width="1" height="17" fill="#FF4500"/>
<rect x="1264" y="124" width="5" height="3" fill="#FF4500"/>
<rect x="1274" y="115" width="1" height="16" fill="#FF4500"/>
<rect x="1272" y="122" width="5" height="3" fill="#FF4500"/>
<rect x="1282" y="121" width="1" height="27" fill="#32CD32"/>
<rect x="1280" y="123" width="5" height="23" fill="#32CD32"/>
<rect x="1290" y="131" width="1" height="15" fill="#FF4500"/>
<rect x="1288" y="135" width="5" height="11" fill="#FF4500"/>
<rect x="1298" y="127" width="1" height="14" fill="#FF4500"/>
<rect x="1296" y="132" width="5" height="4" fill="#FF4500"/>
<rect x="1306" y="130" width="1" height="4" fill="#32CD32"/>
<rect x="1304" y="132" width="5" height="2" fill="#32CD32"/>
<rect x="1314" y="129" width="1" height="4" fill="#FF4500"/>
<rect x="1312" y="130" width="5" height="3" fill="#FF4500"/>
</g></g>
<g shape-rendering="crispEdges">
<rect x="10" y="588" width="1" height="1" fill="#c0c0c0"/>
<rect x="18" y="588" width="1" height="1" fill="#c0c0c0"/>
<rect x="26" y="588" width="1" height="1" fill="#c0c0c0"/>
<rect x="34" y="588" width="1" height="1" fill="#c0c0c0"/>
<rect x="42" y="588" width="1" height="1" fill="#c0c0c0"/>
<rect x="50" y="588" width="1" height="1" fill="#c0c0c0"/>
<rect x="58" y="588" width="1" height="1" fill="#c0c0c0"/>
<rect x="66" y="588" width="1" height="1" fill="#c0c0c0"/>
<rect x="74" y="588" width="1" height="1" fill="#c0c0c0"/>
<rect x="82" y="588" width="1" height="1" fill="#c0c0c0"/>
<rect x="90" y="588" width="1" height="1" fill="#c0c0c0"/>
<rect x="98" y="588" width="1" height="1" fill="#c0c0c0"/>
<rect x="106" y="588" width="1" height="1" fill="#c0c0c0"/>
<rect x="114" y="588" width="1" height="1" fill="#c0c0c0"/>
<rect x="122" y="586" width="1" height="3" fill="#c0c0c0"/>
<rect x="130" y="584" width="1" height="5" fill="#c0c0c0"/>
<rect x="138" y="582" width="1" height="7" fill="#c0c0c0"/>
<rect x="146" y="581" width="1" height="8" fill="#c0c0c0"/>
<rect x="154" y="578" width="1" height="11" fill="#c0c0c0"/>
<rect x="162" y="575" width="1" height="14" fill="#c0c0c0"/>
<rect x="170" y="573" width="1" height="16" fill="#c0c0c0"/>
<rect x="178" y="571" width="1" height="18" fill="#c0c0c0"/>
<rect x="186" y="570" width="1" height="19" fill="#c0c0c0"/>
<rect x="194" y="568" width="1" height="21" fill="#c0c0c0"/>
<rect x="202" y="566" width="1" height="23" fill="#c0c0c0"/>
<rect x="210" y="564" width="1" height="25" fill="#c0c0c0"/>
<rect x="218" y="563" width="1" height="26" fill="#c0c0c0"/>
<rect x="226" y="563" width="1" height="26" fill="#c0c0c0"/>
<rect x="234" y="563" width="1" height="26" fill="#c0c0c0"/>
<rect x="242" y="563" width="1" height="26" fill="#c0c0c0"/>
<rect x="250" y="563" width="1" height="26" fill="#c0c0c0"/>
<rect x="258" y="563" width="1" height="26" fill="#c0c0c0"/>
<rect x="266" y="564" width="1" height="25" fill="#c0c0c0"/>
<rect x="274" y="564" width="1" height="25" fill="#c0c0c0"/>
<rect x="282" y="563" width="1" height="26" fill="#c0c0c0"/>
<rect x="290" y="563" width="1" height="26" fill="#c0c0c0"/>
<rect x="298" y="564" width="1" height="25" fill="#c0c0c0"/>
<rect x="306" y="564" width="1" height="25" fill="#c0c0c0"/>
<rect x="314" y="565" width="1" height="24" fill="#c0c0c0"/>
<rect x="322" y="567" width="1" height="22" fill="#c0c0c0"/>
<rect x="330" y="568" width="1" height="21" fill="#c0c0c0"/>
<rect x="338" y="569" width="1" height="20" fill="#c0c0c0"/>
<rect x="346" y="569" width="1" height="20" fill="#c0c0c0"/>
<rect x="354" y="570" width="1" height="19" fill="#c0c0c0"/>
<rect x="362" y="571" width="1" height="18" fill="#c0c0c0"/>
<rect x="370" y="572" width="1" height="17" fill="#c0c0c0"/>
<rect x="378" y="572" width="1" height="17" fill="#c0c0c0"/>
<rect x="386" y="572" width="1" height="17" fill="#c0c0c0"/>
<rect x="394" y="572" width="1" height="17" fill="#c0c0c0"/>
<rect x="402" y="573" width="1" height="16" fill="#c0c0c0"/>
<rect x="410" y="575" width="1" height="14" fill="#c0c0c0"/>
<rect x="418" y="578" width="1" height="11" fill="#c0c0c0"/>
<rect x="426" y="581" width="1" height="8" fill="#c0c0c0"/>
<rect x="434" y="581" width="1" height="8" fill="#c0c0c0"/>
<rect x="442" y="583" width="1" height="6" fill="#c0c0c0"/>
<rect x="450" y="583" width="1" height="6" fill="#c0c0c0"/>
<rect x="458" y="584" width="1" height="5" fill="#c0c0c0"/>
<rect x="466" y="586" width="1" height="3" fill="#c0c0c0"/>
<rect x="474" y="587" width="1" height="2" fill="#c0c0c0"/>
<rect x="482" y="588" width="1" height="1" fill="#c0c0c0"/>
<rect x="490" y="588" width="1" height="1" fill="#c0c0c0"/>
<rect x="498" y="588" width="1" height="1" fill="#c0c0c0"/>
<rect x="506" y="588" width="1" height="1" fill="#c0c0c0"/>
<rect x="514" y="586" width="1" height="3" fill="#c0c0c0"/>
<rect x="522" y="586" width="1" height="3" fill="#c0c0c0"/>
<rect x="530" y="585" width="1" height="4" fill="#c0c0c0"/>
<rect x="538" y="586" width="1" height="3" fill="#c0c0c0"/>
<rect x="546" y="585" width="1" height="4" fill="#c0c0c0"/>
<rect x="554" y="585" width="1" height="4" fill="#c0c0c0"/>
<rect x="562" y="585" width="1" height="4" fill="#c0c0c0"/>
<rect x="570" y="584" width="1" height="5" fill="#c0c0c0"/>
<rect x="578" y="584" width="1" height="5" fill="#c0c0c0"/>
<rect x="586" y="583" width="1" height="6" fill="#c0c0c0"/>
<rect x="594" y="582" width="1" height="7" fill="#c0c0c0"/>
<rect x="602" y="580" width="1" height="9" fill="#c0c0c0"/>
<rect x="610" y="578" width="1" height="11" fill="#c0c0c0"/>
<rect x="618" y="576" width="1" height="13" fill="#c0c0c0"/>
<rect x="626" y="575" width="1" height="14" fill="#c0c0c0"/>
<rect x="634" y="577" width="1" height="12" fill="#c0c0c0"/>
<rect x="642" y="578" width="1" height="11" fill="#c0c0c0"/>
<rect x="650" y="579" width="1" height="10" fill="#c0c0c0"/>
<rect x="658" y="581" width="1" height="8" fill="#c0c0c0"/>
<rect x="666" y="583" width="1" height="6" fill="#c0c0c0"/>
<rect x="674" y="583" width="1" height="6" fill="#c0c0c0"/>
<rect x="682" y="584" width="1" height="5" fill="#c0c0c0"/>
<rect x="690" y="584" width="1" height="5" fill="#c0c0c0"/>
<rect x="698" y="585" width="1" height="4" fill="#c0c0c0"/>
<rect x="706" y="584" width="1" height="5" fill="#c0c0c0"/>
<rect x="714" y="583" width="1" height="6" fill="#c0c0c0"/>
<rect x="722" y="583" width="1" height="6" fill="#c0c0c0"/>
<rect x="730" y="583" width="1" height="6" fill="#c0c0c0"/>
<rect x="738" y="584" width="1" height="5" fill="#c0c0c0"/>
<rect x="746" y="584" width="1" height="5" fill="#c0c0c0"/>
<rect x="754" y="584" width="1" height="5" fill="#c0c0c0"/>
<rect x="762" y="585" width="1" height="4" fill="#c0c0c0"/>
<rect x="770" y="584" width="1" height="5" fill="#c0c0c0"/>
<rect x="778" y="582" width="1" height="7" fill="#c0c0c0"/>
<rect x="786" y="581" width="1" height="8" fill="#c0c0c0"/>
<rect x="794" y="576" width="1" height="13" fill="#c0c0c0"/>
<rect x="802" y="571" width="1" height="18" fill="#c0c0c0"/>
<rect x="810" y="568" width="1" height="21" fill="#c0c0c0"/>
<rect x="818" y="565" width="1" height="24" fill="#c0c0c0"/>
<rect x="826" y="562" width="1" height="27" fill="#c0c0c0"/>
<rect x="834" y="560" width="1" height="29" fill="#c0c0c0"/>
<rect x="842" y="556" width="1" height="33" fill="#c0c0c0"/>
<rect x="850" y="556" width="1" height="33" fill="#c0c0c0"/>
<rect x="858" y="555" width="1" height="34" fill="#c0c0c0"/>
<rect x="866" y="555" width="1" height="34" fill="#c0c0c0"/>
<rect x="874" y="555" width="1" height="34" fill="#c0c0c0"/>
<rect x="882" y="553" width="1" height="36" fill="#c0c0c0"/>
<rect x="890" y="553" width="1" height="36" fill="#c0c0c0"/>
<rect x="898" y="553" width="1" height="36" fill="#c0c0c0"/>
<rect x="906" y="553" width="1" height="36" fill="#c0c0c0"/>
<rect x="914" y="552" width="1" height="37" fill="#c0c0c0"/>
<rect x="922" y="551" width="1" height="38" fill="#c0c0c0"/>
<rect x="930" y="550" width="1" height="39" fill="#c0c0c0"/>
<rect x="938" y="547" width="1" height="42" fill="#c0c0c0"/>
<rect x="946" y="546" width="1" height="43" fill="#c0c0c0"/>
<rect x="954" y="546" width="1" height="43" fill="#c0c0c0"/>
<rect x="962" y="546" width="1" height="43" fill="#c0c0c0"/>
<rect x="970" y="548" width="1" height="41" fill="#c0c0c0"/>
<rect x="978" y="551" width="1" height="38" fill="#c0c0c0"/>
<rect x="986" y="556" width="1" height="33" fill="#c0c0c0"/>
<rect x="994" y="560" width="1" height="29" fill="#c0c0c0"/>
<rect x="1002" y="564" width="1" height="25" fill="#c0c0c0"/>
<rect x="1010" y="566" width="1" height="23" fill="#c0c0c0"/>
<rect x="1018" y="568" width="1" height="21" fill="#c0c0c0"/>
<rect x="1026" y="571" width="1" height="18" fill="#c0c0c0"/>
<rect x="1034" y="573" width="1" height="16" fill="#c0c0c0"/>
<rect x="1042" y="575" width="1" height="14" fill="#c0c0c0"/>
<rect x="1050" y="578" width="1" height="11" fill="#c0c0c0"/>
<rect x="1058" y="579" width="1" height="10" fill="#c0c0c0"/>
<rect x="1066" y="580" width="1" height="9" fill="#c0c0c0"/>
<rect x="1074" y="581" width="1" height="8" fill="#c0c0c0"/>
<rect x="1082" y="579" width="1" height="10" fill="#c0c0c0"/>
<rect x="1090" y="579" width="1" height="10" fill="#c0c0c0"/>
<rect x="1098" y="579" width="1" height="10" fill="#c0c0c0"/>
<rect x="1106" y="580" width="1" height="9" fill="#c0c0c0"/>
<rect x="1114" y="581" width="1" height="8" fill="#c0c0c0"/>
<rect x="1122" y="585" width="1" height="4" fill="#c0c0c0"/>
<rect x="1130" y="588" width="1" height="1" fill="#c0c0c0"/>
<rect x="1138" y="589" width="1" height="2" fill="#c0c0c0"/>
<rect x="1146" y="589" width="1" height="3" fill="#c0c0c0"/>
<rect x="1154" y="589" width="1" height="5" fill="#c0c0c0"/>
<rect x="1162" y="589" width="1" height="8" fill="#c0c0c0"/>
<rect x="1170" y="589" width="1" height="9" fill="#c0c0c0"/>
<rect x="1178" y="589" width="1" height="10" fill="#c0c0c0"/>
<rect x="1186" y="589" width="1" height="10" fill="#c0c0c0"/>
<rect x="1194" y="589" width="1" height="9" fill="#c0c0c0"/>
<rect x="1202" y="589" width="1" height="7" fill="#c0c0c0"/>
<rect x="1210" y="589" width="1" height="3" fill="#c0c0c0"/>
<rect x="1218" y="587" width="1" height="2" fill="#c0c0c0"/>
<rect x="1226" y="583" width="1" height="6" fill="#c0c0c0"/>
<rect x="1234" y="580" width="1" height="9" fill="#c0c0c0"/>
<rect x="1242" y="578" width="1" height="11" fill="#c0c0c0"/>
<rect x="1250" y="578" width="1" height="11" fill="#c0c0c0"/>
<rect x="1258" y="577" width="1" height="12" fill="#c0c0c0"/>
<rect x="1266" y="577" width="1" height="12" fill="#c0c0c0"/>
<rect x="1274" y="577" width="1" height="12" fill="#c0c0c0"/>
<rect x="1282" y="578" width="1" height="11" fill="#c0c0c0"/>
<rect x="1290" y="578" width="1" height="11" fill="#c0c0c0"/>
<rect x="1298" y="579" width="1" height="10" fill="#c0c0c0"/>
<rect x="1306" y="579" width="1" height="10" fill="#c0c0c0"/>
<rect x="1314" y="579" width="1" height="10" fill="#c0c0c0"/>
</g>
<polyline fill="none" stroke="#ff0000" stroke-width="1" stroke-dasharray="3 3" shape-rendering="crispEdges" points="10.2,585.6 50.9,587.4 76.3,588.7 114.5,588.7 139.9,586.9 152.7,584.3 165.4,581.8 178.1,579.8 190.8,576.2 203.6,572.9 216.3,569.1 229.0,567.0 241.7,565.3 254.5,563.5 279.9,563.2 305.3,563.2 318.1,564.5 356.2,566.5 381.7,568.6 407.1,570.4 430.0,573.7 432.6,574.2 445.3,575.4 455.4,578.0 468.2,579.3 480.9,582.6 493.6,584.9 514.0,586.4 536.9,586.1 557.2,585.1 582.7,583.6 603.0,582.3 618.3,580.0 633.6,578.5 646.3,577.2 659.0,577.2 674.3,578.5 694.6,581.3 709.9,582.3 735.3,582.6 760.8,582.6 786.2,582.3 796.4,581.3 806.6,578.7 821.9,575.4 837.1,569.8 849.8,565.3 862.5,561.4 862.6,560.9 869.9,559.4 875.3,558.9 885.4,555.8 910.9,553.3 936.3,551.3 949.1,549.5 969.4,548.2 992.3,548.2 1002.5,551.3 1017.8,554.3 1033.0,560.2 1048.3,566.5 1063.6,570.4 1078.8,574.9 1101.7,577.2 1127.2,579.3 1139.9,582.3 1152.6,583.8 1165.3,588.2 1178.1,590.7 1190.8,594.5 1201.0,596.6 1211.1,596.6 1226.4,594.5 1236.6,592.0 1246.8,588.9 1256.9,586.1 1267.1,581.8 1277.3,579.3 1292.6,577.2 1299.9,577.2 1314.2,576.7"/>
<g shape-rendering="crispEdges">
<path d="M10 644.5 H1666 M10 694.5 H1666" stroke="#c0c0c0" stroke-width="1" stroke-dasharray="3 3" fill="none"/>
</g>
<polyline fill="none" stroke="#1E90FF" stroke-width="1" shape-rendering="crispEdges" points="10.0,679.6 18.0,678.4 26.0,679.4 34.0,659.3 42.0,663.6 50.0,666.9 58.0,675.1 66.0,676.8 74.0,681.9 82.0,686.5 90.0,680.2 98.0,655.2 106.0,652.2 114.0,650.1 122.0,648.3 130.0,642.7 138.0,639.4 146.0,635.6 154.0,631.8 162.0,628.5 170.0,627.5 178.0,625.4 186.0,624.2 194.0,622.1 202.0,619.8 210.0,621.6 218.0,629.3 226.0,625.4 234.0,638.2 242.0,640.2 250.0,637.4 258.0,640.2 266.0,638.9 274.0,633.6 282.0,632.3 290.0,646.3 298.0,646.6 306.0,644.5 314.0,644.5 322.0,640.2 330.0,638.2 338.0,637.4 346.0,649.1 354.0,649.1 362.0,650.4 370.0,647.6 378.0,647.1 386.0,641.2 394.0,641.2 402.0,654.7 410.0,667.4 418.0,673.3 426.0,674.6 434.0,669.5 442.0,669.2 450.0,666.2 458.0,667.4 466.0,678.1 474.0,682.2 482.0,671.2 490.0,669.2 498.0,668.2 506.0,660.6 514.0,653.4 522.0,658.5 530.0,657.5 538.0,662.3 546.0,661.3 554.0,660.3 562.0,655.5 570.0,655.2 578.0,652.2 586.0,649.1 594.0,644.5 602.0,643.3 610.0,633.1 618.0,635.1 626.0,648.3 634.0,664.1 642.0,668.2 650.0,663.6 658.0,673.3 666.0,672.5 674.0,665.4 682.0,666.4 690.0,667.4 698.0,665.4 706.0,661.1 714.0,652.7 722.0,660.3 730.0,660.3 738.0,661.6 746.0,664.4 754.0,665.6 762.0,668.2 770.0,663.6 778.0,649.6 786.0,646.3 794.0,631.3 802.0,631.3 810.0,632.3 818.0,630.5 826.0,628.5 834.0,628.2 842.0,623.7 850.0,650.9 858.0,645.8 866.0,644.5 874.0,644.3 882.0,639.9 890.0,644.0 898.0,645.5 906.0,642.5 914.0,638.9 922.0,637.2 930.0,634.1 938.0,630.0 946.0,636.4 954.0,641.2 962.0,640.2 970.0,649.1 978.0,654.2 986.0,666.2 994.0,663.1 1002.0,668.2 1010.0,661.1 1018.0,664.4 1026.0,663.1 1034.0,666.2 1042.0,671.5 1050.0,668.4 1058.0,668.2 1066.0,666.2 1074.0,663.6 1082.0,656.5 1090.0,661.1 1098.0,662.3 1106.0,665.1 1114.0,666.4 1122.0,683.2 1130.0,683.2 1138.0,686.5 1146.0,681.4 1154.0,683.2 1162.0,687.3 1170.0,685.0 1178.0,681.4 1186.0,676.3 1194.0,676.1 1202.0,663.6 1210.0,654.2 1218.0,644.5 1226.0,652.4 1234.0,652.4 1242.0,657.3 1250.0,659.3 1258.0,659.3 1266.0,658.5 1274.0,658.5 1282.0,667.7 1290.0,664.4 1298.0,663.1 1306.0,662.8 1314.0,662.6"/>
<g shape-rendering="crispEdges" fill="#000">
<rect x="1667" y="79" width="2" height="1"/>
<rect x="1667" y="226" width="2" height="1"/>
<rect x="1667" y="275" width="2" height="1"/>
<rect x="1667" y="324" width="2" height="1"/>
<rect x="1667" y="373" width="2" height="1"/>
<rect x="1667" y="422" width="2" height="1"/>
<rect x="1667" y="471" width="2" height="1"/>
<rect x="1667" y="520" width="2" height="1"/>
<rect x="1667" y="542" width="2" height="1"/>
<rect x="1667" y="588" width="2" height="1"/>
<rect x="1667" y="601" width="2" height="1"/>
<rect x="1667" y="605" width="2" height="1"/>
<rect x="1667" y="644" width="2" height="1"/>
<rect x="1667" y="694" width="2" height="1"/>
<rect x="1667" y="732" width="2" height="1"/>
</g>
<text x="1674" y="83.5" font-size="12.3" fill="#000">1434.60</text>
<text x="1674" y="230.5" font-size="12.3" fill="#000">1382.10</text>
<text x="1674" y="279.5" font-size="12.3" fill="#000">1364.60</text>
<text x="1674" y="328.5" font-size="12.3" fill="#000">1347.10</text>
<text x="1674" y="377.5" font-size="12.3" fill="#000">1329.60</text>
<text x="1674" y="426.5" font-size="12.3" fill="#000">1312.45</text>
<text x="1674" y="475.5" font-size="12.3" fill="#000">1294.95</text>
<text x="1674" y="524.5" font-size="12.3" fill="#000">1277.45</text>
<rect x="1668" y="85" width="56" height="14" fill="#ff0000" shape-rendering="crispEdges"/>
<text x="1674" y="96.5" font-size="12.3" fill="#fff">1430.24</text>
<rect x="1668" y="123" width="56" height="14" fill="#000000" shape-rendering="crispEdges"/>
<text x="1674" y="134.5" font-size="12.3" fill="#fff">1416.44</text>
<rect x="1668" y="170" width="56" height="14" fill="#00ff7f" shape-rendering="crispEdges"/>
<text x="1674" y="181.5" font-size="12.3" fill="#fff">1400.00</text>
<rect x="1668" y="245" width="56" height="14" fill="#0000ff" shape-rendering="crispEdges"/>
<text x="1674" y="256.5" font-size="12.3" fill="#fff">1373.15</text>
<rect x="1668" y="299" width="56" height="14" fill="#0000ff" shape-rendering="crispEdges"/>
<text x="1674" y="310.5" font-size="12.3" fill="#fff">1354.00</text>
<text x="1670.5" y="555" font-size="12.3" fill="#000">19.221</text>
<text x="1670.5" y="592.2" font-size="12.3" fill="#000">0.00</text>
<text x="1670.5" y="598.6" font-size="12.3" fill="#000">-5.841</text>
<text x="1670.5" y="617.7" font-size="12.3" fill="#000">100</text>
<text x="1669.5" y="648.7" font-size="12.3" fill="#000">70</text>
<text x="1669.5" y="698.7" font-size="12.3" fill="#000">30</text>
<text x="1669.5" y="730.2" font-size="12.3" fill="#000">0</text>
<g shape-rendering="crispEdges" fill="#000">
<rect x="10" y="734" width="1" height="4"/>
<rect x="106" y="734" width="1" height="4"/>
<rect x="202" y="734" width="1" height="4"/>
<rect x="298" y="734" width="1" height="4"/>
<rect x="394" y="734" width="1" height="4"/>
<rect x="490" y="734" width="1" height="4"/>
<rect x="586" y="734" width="1" height="4"/>
<rect x="682" y="734" width="1" height="4"/>
<rect x="778" y="734" width="1" height="4"/>
<rect x="874" y="734" width="1" height="4"/>
<rect x="970" y="734" width="1" height="4"/>
<rect x="1066" y="734" width="1" height="4"/>
<rect x="1162" y="734" width="1" height="4"/>
<rect x="1258" y="734" width="1" height="4"/>
</g>
<text x="9.5" y="749" font-size="12.3" fill="#000">28 May 2019</text>
<text x="105.5" y="749" font-size="12.3" fill="#000">30 May 16:00</text>
<text x="201.5" y="749" font-size="12.3" fill="#000">3 Jun 16:00</text>
<text x="297.5" y="749" font-size="12.3" fill="#000">5 Jun 16:00</text>
<text x="393.5" y="749" font-size="12.3" fill="#000">7 Jun 16:00</text>
<text x="489.5" y="749" font-size="12.3" fill="#000">11 Jun 16:00</text>
<text x="585.5" y="749" font-size="12.3" fill="#000">13 Jun 16:00</text>
<text x="681.5" y="749" font-size="12.3" fill="#000">17 Jun 16:00</text>
<text x="777.5" y="749" font-size="12.3" fill="#000">19 Jun 16:00</text>
<text x="873.5" y="749" font-size="12.3" fill="#000">21 Jun 16:00</text>
<text x="969.5" y="749" font-size="12.3" fill="#000">25 Jun 16:00</text>
<text x="1065.5" y="749" font-size="12.3" fill="#000">27 Jun 16:00</text>
<text x="1161.5" y="749" font-size="12.3" fill="#000">1 Jul 16:00</text>
<text x="1257.5" y="749" font-size="12.3" fill="#000">3 Jul 16:00</text>
<path d="M13 55 H22.2 L17.6 49.8 Z" fill="#000"/>
<text x="27.5" y="57" font-size="12.3" fill="#000" textLength="68.5" lengthAdjust="spacingAndGlyphs">XAUUSD-,H4</text>
<text x="105.5" y="57" font-size="12.3" fill="#000" textLength="195" lengthAdjust="spacingAndGlyphs">1415.66 1416.64 1415.42 1416.44</text>
<text x="13.8" y="557" font-size="12.3" fill="#000" textLength="156" lengthAdjust="spacingAndGlyphs">MACD(12,26,9) 3.648 4.413</text>
<text x="13.8" y="620" font-size="12.3" fill="#000" textLength="91.6" lengthAdjust="spacingAndGlyphs">RSI(14) 55.7283</text>
<g shape-rendering="crispEdges">
<rect x="11" y="64" width="287" height="78" fill="#fff"/>
<rect x="13" y="65" width="68" height="28" fill="#0a0ab4"/>
<rect x="14" y="66" width="66" height="27" fill="url(#gb1)"/>
<rect x="229" y="65" width="67" height="28" fill="#0a0ab4"/>
<rect x="230" y="66" width="65" height="27" fill="url(#gb1)"/>
<rect x="13" y="92" width="141" height="49" fill="#0808b0"/>
<rect x="14" y="92" width="139" height="48" fill="url(#gb2)"/>
<rect x="156" y="92" width="140" height="49" fill="#0808b0"/>
<rect x="157" y="92" width="138" height="48" fill="url(#gb2)"/>
<rect x="80" y="92" width="74" height="1" fill="#0808b0"/>
<rect x="156" y="92" width="74" height="1" fill="#0808b0"/>
<rect x="17" y="91" width="60" height="1" fill="#000090"/>
<rect x="17" y="92" width="60" height="1" fill="#7878f0"/>
<rect x="232" y="91" width="60" height="1" fill="#000090"/>
<rect x="232" y="92" width="60" height="1" fill="#7878f0"/>
<rect x="83.5" y="65.5" width="142" height="24" fill="#fff" stroke="#aaa" stroke-width="1"/>
<rect x="85" y="67" width="22" height="21" fill="url(#gg)"/>
<rect x="202" y="67" width="22" height="21" fill="url(#gg)"/>
<rect x="107" y="66" width="1" height="23" fill="#b4b4b4"/>
<rect x="201" y="66" width="1" height="23" fill="#b4b4b4"/>
</g>
<path d="M92 76.5 H99.5 L95.75 80.5 Z" fill="#5064b4"/>
<path d="M209.5 80.5 H217 L213.25 76.5 Z" fill="#5064b4"/>
<text x="46.7" y="84" font-size="16" fill="#fff" text-anchor="middle" textLength="32.6" lengthAdjust="spacingAndGlyphs">SELL</text>
<text x="261.3" y="84" font-size="16" fill="#fff" text-anchor="middle" textLength="28" lengthAdjust="spacingAndGlyphs">BUY</text>
<text x="197.6" y="83" font-size="16" fill="#000" text-anchor="end" textLength="29.8" lengthAdjust="spacingAndGlyphs">1.00</text>
<text x="44" y="129.7" font-size="15.6" font-weight="bold" fill="#fff" textLength="36" lengthAdjust="spacingAndGlyphs">1416</text>
<text x="83" y="129.7" font-size="40.5" fill="#fff" textLength="42.5" lengthAdjust="spacingAndGlyphs">43</text>
<text x="185.6" y="129.7" font-size="15.6" font-weight="bold" fill="#fff" textLength="36" lengthAdjust="spacingAndGlyphs">1416</text>
<text x="227.5" y="129.7" font-size="40.5" fill="#fff" textLength="42.5" lengthAdjust="spacingAndGlyphs">84</text>
<text y="503.2" font-size="51" fill="#ff2814"><tspan x="1180.3">多空转折点</tspan><tspan x="1431.7" y="500.8" font-size="52">1400</tspan></text>
</svg>
</body></html>
